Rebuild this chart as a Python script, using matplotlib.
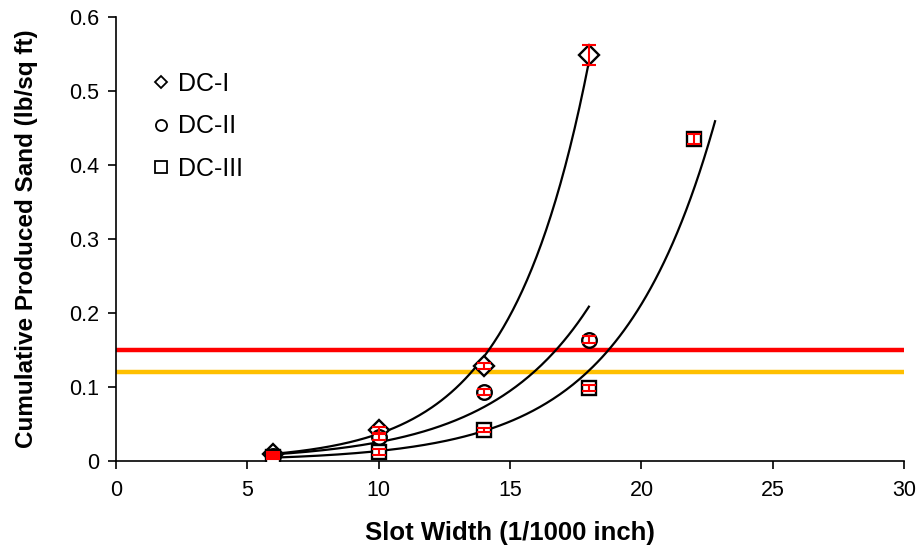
import numpy as np
import matplotlib
matplotlib.use("Agg")
import matplotlib.pyplot as plt
from matplotlib.lines import Line2D

plt.rcParams['font.family'] = ['Liberation Sans', 'DejaVu Sans']

# Data
x_dc1 = [6, 10, 14, 18]
y_dc1 = [0.009, 0.042, 0.128, 0.549]
e_dc1 = [0.003, 0.004, 0.004, 0.013]

x_dc2 = [6, 10, 14, 18]
y_dc2 = [0.007, 0.032, 0.093, 0.164]
e_dc2 = [0.003, 0.004, 0.004, 0.005]

x_dc3 = [6, 10, 14, 18, 22]
y_dc3 = [0.005, 0.012, 0.042, 0.099, 0.435]
e_dc3 = [0.003, 0.004, 0.003, 0.004, 0.007]

labels = ['DC-I', 'DC-II', 'DC-III']
markers = ['D', 'o', 's']
trend_end = [18, 18, 22.8]

red_level = 0.15
orange_level = 0.12

xticks = [0, 5, 10, 15, 20, 25, 30]
yticks = [0, 0.1, 0.2, 0.3, 0.4, 0.5, 0.6]
ytick_labels = ['0', '0.1', '0.2', '0.3', '0.4', '0.5', '0.6']

fig = plt.figure(figsize=(9.19, 5.54), dpi=100)
ax = fig.add_axes([0.126, 0.168, 0.858, 0.801])

ax.axhline(red_level, color='#FF0000', lw=3.2, zorder=1)
ax.axhline(orange_level, color='#FFC000', lw=3.2, zorder=1)

series = [(x_dc1, y_dc1, e_dc1), (x_dc2, y_dc2, e_dc2), (x_dc3, y_dc3, e_dc3)]
msz = [10, 10.5, 10]
for (xs, ys, es), m, xe, ms in zip(series, markers, trend_end, msz):
    xs = np.array(xs, float); ys = np.array(ys, float)
    b, a = np.polyfit(xs, np.log(ys), 1)
    xx = np.linspace(xs[0], xe, 200)
    ax.plot(xx, np.exp(a + b * xx), color='black', lw=1.6, zorder=2)
    ax.plot(xs, ys, linestyle='none', marker=m, ms=ms, mfc='white', mec='black', mew=1.7, zorder=3)
    ax.errorbar(xs, ys, yerr=es, fmt='none', ecolor='#FF0000', elinewidth=1.5, capsize=5, capthick=1.5, zorder=4)

ax.set_xlim(0, 30)
ax.set_ylim(0, 0.6)
ax.set_xticks(xticks)
ax.set_yticks(yticks)
ax.set_yticklabels(ytick_labels)
ax.tick_params(axis='both', labelsize=15.5, direction='out', length=6, width=1.2, colors='black')
ax.tick_params(axis='x', pad=8)
ax.tick_params(axis='y', pad=6)
ax.spines['top'].set_visible(False)
ax.spines['right'].set_visible(False)
ax.spines['left'].set_linewidth(1.2)
ax.spines['bottom'].set_linewidth(1.2)

ax.set_xlabel('Slot Width (1/1000 inch)', fontsize=18.5, fontweight='bold', labelpad=14)
ax.set_ylabel('Cumulative Produced Sand (lb/sq ft)', fontsize=17.5, fontweight='bold', labelpad=22)

handles = [Line2D([], [], linestyle='none', marker=m, ms=s, mfc='white', mec='black', mew=1.3)
           for m, s in zip(markers, [6.5, 8, 8])]
ax.legend(handles, labels, loc='upper left', bbox_to_anchor=(0.035, 0.9), frameon=False,
          fontsize=18, handlelength=0.6, handletextpad=0.4, labelspacing=0.75, borderaxespad=0)

fig.savefig('out.png', dpi=100)
